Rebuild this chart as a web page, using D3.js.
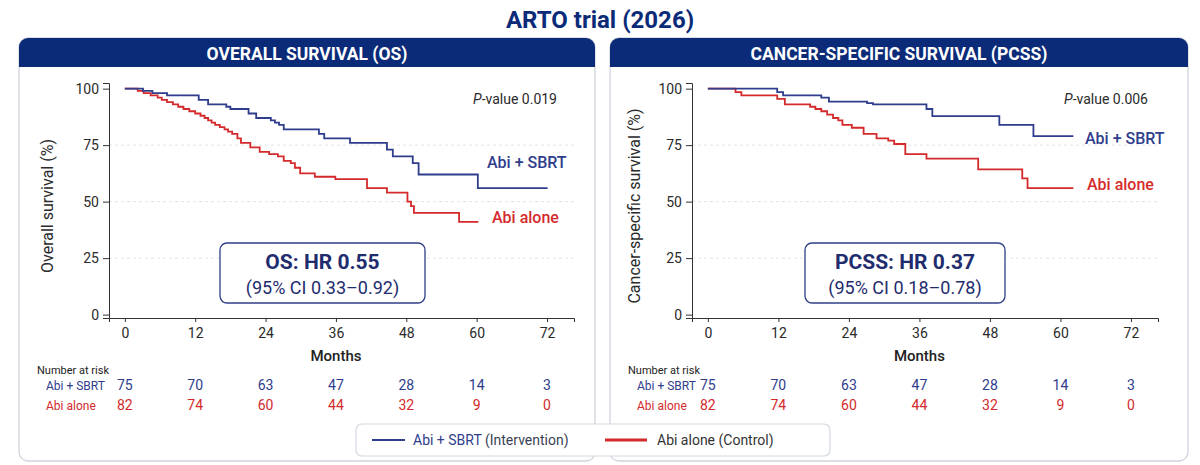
<!DOCTYPE html>
<html>
<head>
<meta charset="utf-8">
<script src="https://cdn.jsdelivr.net/npm/d3@7"></script>
<style>
  body { margin: 0; background: #fff; }
  svg text { font-family: Roboto, "Liberation Sans", sans-serif; }
  .tick text { font-family: Roboto, "Liberation Sans", Arial, sans-serif; font-size: 14px; fill: #2a2a2a; }
  .tick line, .domain { stroke: #333; }
</style>
</head>
<body>
<svg id="chart" width="1200" height="465"></svg>
<script>
// ---- data ----
var monthTicks = [0, 12, 24, 36, 48, 60, 72];
var survTicks = [0, 25, 50, 75, 100];
var gridTicks = [25, 50, 75];

// Kaplan-Meier steps: [month, survival %]
var osSbrt = [[0,100],[3.1,99],[4.7,98],[7.2,97],[12.6,95],[14.2,93],[17.3,92],[18,91],[21.1,89],[22.4,87],
  [24.9,86],[25.6,85],[26.3,84],[27.1,82],[33.1,80],[34,78],[38.4,76],[44.7,73],[45.7,70],[49.1,67],
  [50.1,62],[60.2,56],[72.1,56]];
var osAlone = [[0,100],[2.2,99],[3.2,98],[4.4,97],[5.6,96],[6.3,95],[7.2,94],[8.2,93],[9.1,92],[10,91],
  [11,90],[12,89],[12.9,88],[13.6,87],[14.2,86],[14.8,85],[15.4,84],[16.2,83],[17,82],[17.6,81],[18.3,80],
  [19.2,78],[19.8,76],[21.4,74],[23,72],[24.6,71],[26.1,70],[27.1,68],[28.3,67],[29,65],[29.9,62.5],
  [32.4,61],[35.9,60],[41.3,56],[44.7,54],[48.2,50],[48.8,48],[49.3,45],[57,41],[60.3,41]];
var pcssSbrt = [[0,100],[11.8,98.5],[12.8,97],[19.3,96],[20.6,94.3],[27.1,93.6],[28.1,93],[37.2,91],
  [38.2,87.8],[49.6,84],[55.4,79],[62.2,79]];
var pcssAlone = [[0,100],[4.7,98.5],[5.7,97],[11.8,95.5],[13.1,93],[17.4,92],[18.3,91],[19.3,90],
  [20.3,88.5],[21.3,87],[22.2,86],[22.9,84],[24.5,82.7],[26.5,80],[28.7,78],[30.7,77],[31.7,75.5],
  [33.6,71],[37.2,69],[46,64.3],[53.5,60.3],[54.4,56],[62.2,56]];

var riskSbrt = [75, 70, 63, 47, 28, 14, 3];
var riskAlone = [82, 74, 60, 44, 32, 9, 0];

var BLUE = "#2f3d8c", RED = "#d42a2c", NAVY = "#0b2a78";

var svg = d3.select("#chart");

// title
svg.append("text").attr("x", 600).attr("y", 28).attr("text-anchor", "middle")
  .style("font-size", "24px").style("font-weight", "bold").attr("fill", NAVY)
  .text("ARTO trial (2026)");

/**
 * draws one panel with its KM plot and the number-at-risk table
 */
function drawPanel(p) {
  var g = svg.append("g");

  // panel frame + header
  g.append("rect").attr("x", p.left).attr("y", 38).attr("width", p.right - p.left).attr("height", 423)
    .attr("rx", 9).attr("fill", "#fff").attr("stroke", "#d0d4dc").attr("stroke-width", 1.3);
  g.append("path").attr("fill", NAVY)
    .attr("d", "M" + p.left + ",67 V47 a9,9 0 0 1 9,-9 H" + (p.right - 9) + " a9,9 0 0 1 9,9 V67 Z");
  g.append("text").attr("x", (p.left + p.right) / 2).attr("y", 59.5).attr("text-anchor", "middle")
    .attr("fill", "#fff").style("font-size", "17.5px").style("font-weight", "bold").text(p.header);

  var x = d3.scaleLinear().domain([-2.7, 76.6]).range([p.x0, p.x1]);
  var y = d3.scaleLinear().domain([-1.5, 102.5]).range([318, 83]);

  // grid
  g.selectAll(".grid").data(gridTicks).enter().append("line")
    .attr("x1", p.x0).attr("x2", p.x1).attr("y1", function(d) { return y(d); }).attr("y2", function(d) { return y(d); })
    .attr("stroke", "#e3e3e3").attr("stroke-dasharray", "3,3");

  // axes
  g.append("g").attr("transform", "translate(0,318)")
    .call(d3.axisBottom(x).tickValues(monthTicks).tickSize(4).tickPadding(6));
  g.append("g").attr("transform", "translate(" + p.x0 + ",0)")
    .call(d3.axisLeft(y).tickValues(survTicks).tickSize(6).tickPadding(4));

  g.append("text").attr("transform", "translate(" + p.ylabX + ",206) rotate(-90)")
    .attr("text-anchor", "middle").style("font-size", "16px").attr("fill", "#2a2a2a").text(p.ylabel);
  g.append("text").attr("x", (x(0) + x(72)) / 2).attr("y", 361).attr("text-anchor", "middle")
    .style("font-size", "15px").style("font-weight", 500).attr("fill", "#222").text("Months");

  // curves
  var line = d3.line().curve(d3.curveStepAfter)
    .x(function(d) { return x(d[0]); }).y(function(d) { return y(d[1]); });
  g.append("path").datum(p.alone).attr("d", line).attr("fill", "none").attr("stroke", RED).attr("stroke-width", 1.8);
  g.append("path").datum(p.sbrt).attr("d", line).attr("fill", "none").attr("stroke", BLUE).attr("stroke-width", 1.8);

  // labels
  var pv = g.append("text").attr("x", p.pvX).attr("y", 104).attr("text-anchor", "end")
    .style("font-size", "14px").attr("fill", "#2a2a2a");
  pv.append("tspan").style("font-style", "italic").text("P");
  pv.append("tspan").text("-value " + p.pvalue);

  g.append("text").attr("x", p.sbrtLab[0]).attr("y", p.sbrtLab[1]).style("font-size", "16px")
    .style("font-weight", 500).attr("fill", BLUE).text("Abi + SBRT");
  g.append("text").attr("x", p.aloneLab[0]).attr("y", p.aloneLab[1]).style("font-size", "16px")
    .style("font-weight", 500).attr("fill", RED).text("Abi alone");

  // HR box
  g.append("rect").attr("x", p.box[0]).attr("y", 243).attr("width", p.box[1] - p.box[0]).attr("height", 60)
    .attr("rx", 7).attr("fill", "#fff").attr("stroke", "#2f3f86").attr("stroke-width", 1.3);
  var bc = (p.box[0] + p.box[1]) / 2;
  g.append("text").attr("x", bc).attr("y", 269).attr("text-anchor", "middle")
    .style("font-size", "21px").style("font-weight", "bold").attr("fill", "#1f2c6e").text(p.hr);
  g.append("text").attr("x", bc).attr("y", 294).attr("text-anchor", "middle")
    .style("font-size", "18px").attr("fill", "#1f2c6e").text(p.ci);

  // number at risk
  g.append("text").attr("x", p.left + 18).attr("y", 374).style("font-size", "11px").attr("fill", "#222")
    .text("Number at risk");
  g.append("text").attr("x", p.left + 27).attr("y", 390).style("font-size", "12px").attr("fill", BLUE).text("Abi + SBRT");
  g.append("text").attr("x", p.left + 27).attr("y", 410).style("font-size", "12px").attr("fill", RED).text("Abi alone");
  g.selectAll(".rs").data(riskSbrt).enter().append("text")
    .attr("x", function(d, i) { return x(monthTicks[i]); }).attr("y", 390).attr("text-anchor", "middle")
    .style("font-size", "14px").attr("fill", BLUE).text(function(d) { return d; });
  g.selectAll(".ra").data(riskAlone).enter().append("text")
    .attr("x", function(d, i) { return x(monthTicks[i]); }).attr("y", 410).attr("text-anchor", "middle")
    .style("font-size", "14px").attr("fill", RED).text(function(d) { return d; });
}

drawPanel({
  left: 19, right: 595, x0: 109, x1: 574, header: "OVERALL SURVIVAL (OS)",
  ylabel: "Overall survival (%)", ylabX: 53, sbrt: osSbrt, alone: osAlone,
  pvalue: "0.019", pvX: 557, sbrtLab: [487, 168], aloneLab: [492, 223],
  box: [220, 425], hr: "OS: HR 0.55", ci: "(95% CI 0.33\u20130.92)"
});
drawPanel({
  left: 610, right: 1188, x0: 692, x1: 1158, header: "CANCER-SPECIFIC SURVIVAL (PCSS)",
  ylabel: "Cancer-specific survival (%)", ylabX: 640, sbrt: pcssSbrt, alone: pcssAlone,
  pvalue: "0.006", pvX: 1148, sbrtLab: [1085, 144], aloneLab: [1087, 190],
  box: [805, 1005], hr: "PCSS: HR 0.37", ci: "(95% CI 0.18\u20130.78)"
});

// legend
var lg = svg.append("g");
lg.append("rect").attr("x", 356).attr("y", 424).attr("width", 474).attr("height", 32).attr("rx", 6)
  .attr("fill", "#fff").attr("stroke", "#d3d7df").attr("stroke-width", 1.2);
lg.append("line").attr("x1", 372).attr("x2", 405).attr("y1", 440).attr("y2", 440).attr("stroke", BLUE).attr("stroke-width", 2);
var lt = lg.append("text").attr("x", 413).attr("y", 445).style("font-size", "14px");
lt.append("tspan").attr("fill", BLUE).text("Abi + SBRT");
lt.append("tspan").attr("fill", "#3b3f55").text(" (Intervention)");
lg.append("line").attr("x1", 605).attr("x2", 647).attr("y1", 440).attr("y2", 440).attr("stroke", RED).attr("stroke-width", 3);
lg.append("text").attr("x", 657).attr("y", 445).style("font-size", "14px").attr("fill", "#333").text("Abi alone (Control)");
</script>
</body>
</html>
